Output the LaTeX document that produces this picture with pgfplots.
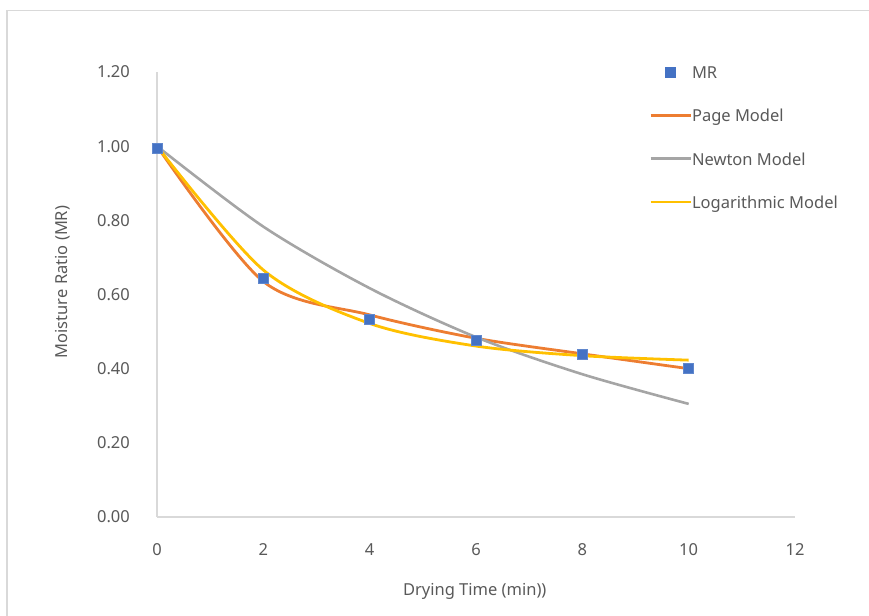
\documentclass[border=0pt]{standalone}
\usepackage{pgfplots}
\pgfplotsset{compat=1.18}
\usepackage{fontspec}
\setmainfont{Noto Sans}
\definecolor{txt}{HTML}{595959}
\definecolor{axc}{HTML}{D9D9D9}
\definecolor{mrblue}{HTML}{4472C4}
\definecolor{pageor}{HTML}{ED7D31}
\definecolor{newgray}{HTML}{A5A5A5}
\definecolor{logyel}{HTML}{FFC000}
\pgfplotsset{
  mylinelegend/.style={legend image code/.code={\draw[##1] (0pt,3pt) -- (40pt,3pt);}},
  mymarklegend/.style={legend image code/.code={\draw[##1] plot coordinates {(20pt,3pt)};}},
}
\begin{document}
\begin{tikzpicture}[x=1pt,y=1pt]
\useasboundingbox (0,0) rectangle (869,615);
\draw[axc, line width=1.5pt] (7,-5) -- (7,604.5) -- (875,604.5);
\begin{axis}[
  at={(157pt,98pt)}, anchor=south west,
  scale only axis, width=638pt, height=445pt,
  xmin=0, xmax=12, ymin=0, ymax=1.2,
  axis lines=left,
  axis line style={axc, line width=1.5pt, -},
  xtick={0,2,...,12},
  ytick={0,0.2,0.4,0.6,0.8,1.0,1.2},
  major tick length=0pt,
  tick style={draw=none},
  /pgf/number format/assume math mode=true,
  yticklabel style={/pgf/number format/.cd, fixed, fixed zerofill, precision=2, /tikz/.cd},
  ticklabel style={font=\fontsize{16.5}{18}\selectfont, text=txt},
  xticklabel style={anchor=center, inner sep=0pt, yshift=-33pt},
  yticklabel style={anchor=east, inner sep=0pt, xshift=-27pt},
  xlabel={Drying Time (min))},
  ylabel={Moisture Ratio (MR)},
  label style={font=\fontsize{16.5}{18}\selectfont, text=txt},
  xlabel style={at={(axis description cs:0.498,0)}, anchor=center, yshift=-74pt},
  ylabel style={at={(axis description cs:0,0.528)}, anchor=center, yshift=94pt},
  legend style={draw=none, fill=none, at={(axis description cs:0.7712,1.012)}, anchor=north west,
    font=\fontsize{16.5}{18}\selectfont, text=txt, inner sep=0pt, row sep=28.4pt,
    nodes={inner sep=0pt, text height=11pt, text depth=4pt}},
  legend cell align=left,
]
\addlegendimage{only marks, mark=square*, mark size=5pt, mrblue, mymarklegend}
\addlegendentry{MR}
\addplot[pageor, line width=2.8pt, smooth, no markers, mylinelegend]
  coordinates {(0,1.0) (2,0.635) (4,0.545) (6,0.482) (8,0.440) (10,0.400)};
\addlegendentry{Page Model}
\addplot[newgray, line width=2.6pt, smooth, no markers, mylinelegend]
  coordinates {(0,1.0) (2,0.783) (4,0.617) (6,0.485) (8,0.385) (10,0.305)};
\addlegendentry{Newton Model}
\addplot[logyel, line width=2.8pt, smooth, no markers, mylinelegend]
  coordinates {(0,1.0) (2,0.666) (4,0.522) (6,0.461) (8,0.435) (10,0.423)};
\addlegendentry{Logarithmic Model}
\addplot[forget plot, only marks, mark=square*, mark size=5pt, mrblue, mark options={draw=mrblue!85!white, line width=0.6pt}]
  coordinates {(0,0.995) (2,0.645) (4,0.533) (6,0.477) (8,0.440) (10,0.402)};
\end{axis}
\end{tikzpicture}
\end{document}
